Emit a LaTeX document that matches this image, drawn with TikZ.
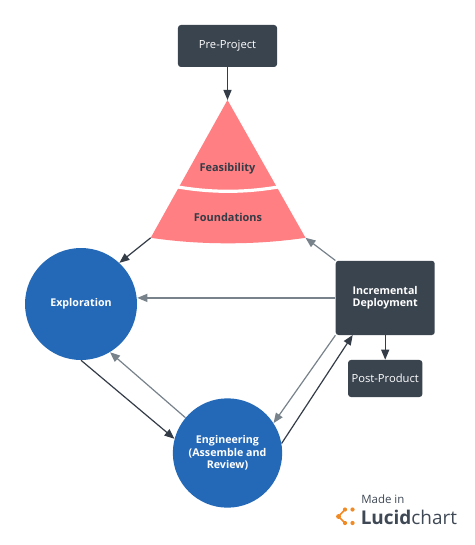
\documentclass[tikz,border=0pt]{standalone}
\usepackage{fontspec}
\setmainfont{Open Sans}
\usetikzlibrary{arrows.meta}
\definecolor{slatebox}{HTML}{3A444F}
\definecolor{bluecirc}{HTML}{2469B8}
\definecolor{salmon}{HTML}{FF7F82}
\definecolor{greyline}{HTML}{78828B}
\definecolor{darkline}{HTML}{343C47}
\definecolor{orangelogo}{HTML}{F08A24}
\definecolor{logotext}{HTML}{3F4855}
\tikzset{
  x=0.75pt,y=-0.75pt,
  box/.style={draw=none,fill=slatebox,rounded corners=2.2pt,inner sep=0pt,align=center,text=white},
  circ/.style={circle,fill=bluecirc,inner sep=0pt,align=center,text=white,font=\fontsize{8}{9.3}\selectfont\bfseries},
  darkarrow/.style={draw=darkline,line width=0.9pt,-{Triangle[length=7.5pt,width=6pt]}},
  greyarrow/.style={draw=greyline,line width=0.9pt,-{Triangle[length=7.5pt,width=6pt]}},
  tritext/.style={inner sep=0pt,text=darkline,font=\fontsize{8.2}{10}\selectfont\bfseries},
  logodot/.style={fill=orangelogo,draw=none},
}
\begin{document}
\begin{tikzpicture}
\useasboundingbox (0,0) rectangle (474,545);
\fill[white] (0,0) rectangle (474,545);
% triangle
\coordinate (apex) at (227.5,100);
\coordinate (triL) at (150.7,237.8);
\coordinate (triR) at (305.5,237.8);
\coordinate (triC) at (228,243.3);
\fill[salmon] (apex) -- (triR) .. controls (280,241.5) and (255,243.3) .. (228,243.3) .. controls (201,243.3) and (176,241.5) .. (triL) -- cycle;
\draw[white,line width=2.4pt] (175,186.5) .. controls (195,190) and (212,191.3) .. (228,191.3) .. controls (244,191.3) and (261,190) .. (281,186.5);
\node[tritext] (feas) at (227.5,168.5) {Feasibility};
\node[tritext] (found) at (228,217.5) {Foundations};
% boxes
\node[box,minimum width=74.3pt,minimum height=31.5pt] (pre) at (227.5,46) {};
\node[inner sep=0pt,text=white,font=\fontsize{8.4}{10}\selectfont] (pretext) at (227.5,45.8) {Pre-Project};
\node[box,minimum width=74.3pt,minimum height=55.7pt,font=\fontsize{8}{9.4}\selectfont\bfseries] (inc) at (385.2,297.9) {Incremental\\Deployment};
\node[box,minimum width=55.7pt,minimum height=27.8pt,font=\fontsize{8.4}{10}\selectfont] (post) at (385.2,378.5) {Post-Product};
% circles
\node[circ,minimum size=84pt] (expl) at (81,304) {Exploration};
\node[circ,minimum size=82pt] (eng) at (227.5,453) {Engineering\\(Assemble and\\Review)};
% connectors
\draw[darkarrow] (pre.south) -- (apex);
\draw[darkarrow] (triL) -- (expl.47);
\draw[greyarrow] (inc.north west) -- (triR);
\draw[greyarrow] (inc.west) -- (inc.west -| expl.east);
\draw[darkarrow] (expl.-90) -- (eng.165);
\draw[greyarrow] (eng.140) -- (expl.-59);
\draw[greyarrow] (inc.south west) -- (eng.33);
\coordinate (incIn) at (352.7,335);
\draw[darkarrow] (eng.10.5) -- (incIn);
\draw[darkarrow] (inc.south) -- (post.north);
% logo
\node[anchor=base west,inner sep=0pt,text=logotext,font=\fontsize{8.6}{10}\selectfont] (made) at (361,503) {Made in};
\node[anchor=base west,inner sep=0pt,text=logotext,font=\fontsize{14.2}{16}\selectfont] (lucid) at (360.5,524) {\textbf{Lucid}chart};
\fill[logodot] (352.5,509.5) circle (2.1);
\fill[logodot] (345,509.5) circle (2.1);
\fill[logodot] (352.5,523) circle (2.1);
\fill[logodot] (345,523) circle (2.1);
\fill[logodot] (338.5,516.5) circle (2.4);
\draw[orangelogo,line width=1.2pt] (345,509.5) -- (338.5,516.5) -- (345,523);
\end{tikzpicture}
\end{document}
